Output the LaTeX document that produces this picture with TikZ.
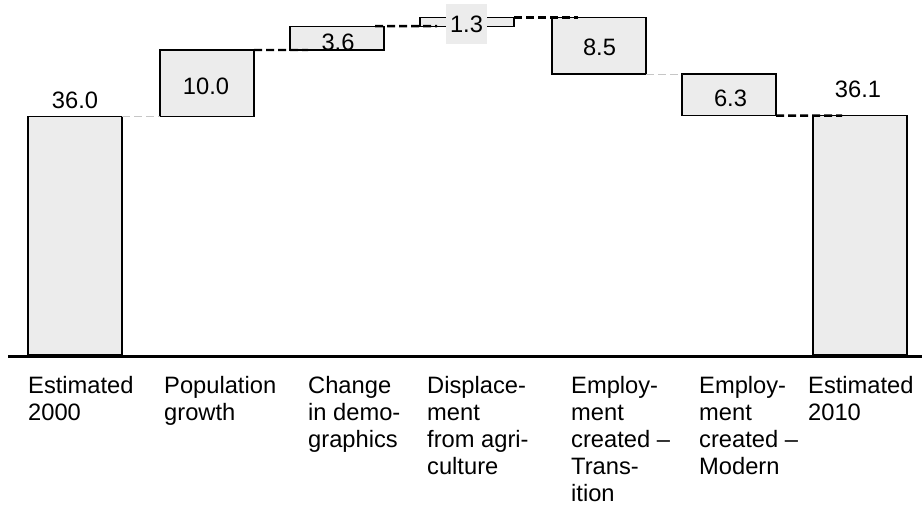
\documentclass[tikz,border=0pt]{standalone}
\usepackage{fontspec}
\setmainfont{Liberation Sans}

\begin{document}
\begin{tikzpicture}[x=1pt,y=-1pt,font=\fontsize{23.7}{27}\selectfont,bar/.style={shape=rectangle,draw=black,fill=gray!15,line width=1.3pt,inner sep=0pt,outer sep=0pt,minimum width=94pt,anchor=north west},valL/.style={anchor=base,inner sep=0pt},catL/.style={anchor=north west,align=left,inner sep=0pt},linkD/.style={line width=2.4pt,dash pattern=on 8pt off 4pt},linkL/.style={gray!45,line width=0.6pt,dash pattern=on 8pt off 4pt}]
\def\u{6.63};
\def\base{355};
\def\yc{376};

\useasboundingbox (0,0) rectangle (922,512);

\node[bar,minimum height=36*\u] (b1) at (28,\base-36*\u) {};
\node[valL] (v1) at (75,108) {36.0};

\node[bar,minimum height=10*\u] (b2) at (160,\base-46*\u) {};
\node[valL] (v2) at (206,94) {10.0};
\node[bar,minimum height=3.6*\u] (b3) at (290,\base-49.6*\u) {};
\node[valL] (v3) at (338,50) {3.6};
\node[bar,minimum height=1.3*\u] (b4) at (420,\base-50.9*\u) {};
\node[bar,minimum height=8.5*\u] (b5) at (552,\base-50.9*\u) {};
\node[valL] (v5) at (599.5,55) {8.5};
\node[bar,minimum height=6.3*\u] (b6) at (682,\base-42.4*\u) {};
\node[valL] (v6) at (730.5,106) {6.3};

\node[bar,minimum height=36.1*\u] (b7) at (813,\base-36.1*\u) {};
\node[valL] (v7) at (858,97) {36.1};

\draw[linkL] (b1.north east) -- (b2.south west);
\draw[linkD] (b2.north east) -- ([xshift=18pt]b3.south west);
\draw[linkD] ([xshift=-9pt]b3.north east) -- ([xshift=17pt]b4.south west);
\draw[linkD] (b4.north east) -- ([xshift=26pt]b5.north west);
\draw[linkL] (b5.south east) -- (b6.north west);
\draw[linkD] (b6.south east) -- ([xshift=29pt]b7.north west);

\node[fill=gray!15,minimum width=41pt,minimum height=40pt,inner sep=0pt] (v4) at (466.5,24) {1.3};

\coordinate (ax0) at (8,356);
\coordinate (ax1) at (922,356);
\draw[line width=3pt] (ax0) -- (ax1);

\node[catL] (c1) at (28,\yc) {Estimated\\2000};
\node[catL] (c2) at (164,\yc) {Population\\growth};
\node[catL] (c3) at (308,\yc) {Change\\in demo-\\graphics};
\node[catL] (c4) at (427,\yc) {Displace-\\ment\\from agri-\\culture};
\node[catL] (c5) at (571,\yc) {Employ-\\ment\\created --\\Trans-\\ition};
\node[catL] (c6) at (699,\yc) {Employ-\\ment\\created --\\Modern};
\node[catL] (c7) at (808,\yc) {Estimated\\2010};
\end{tikzpicture}
\end{document}
